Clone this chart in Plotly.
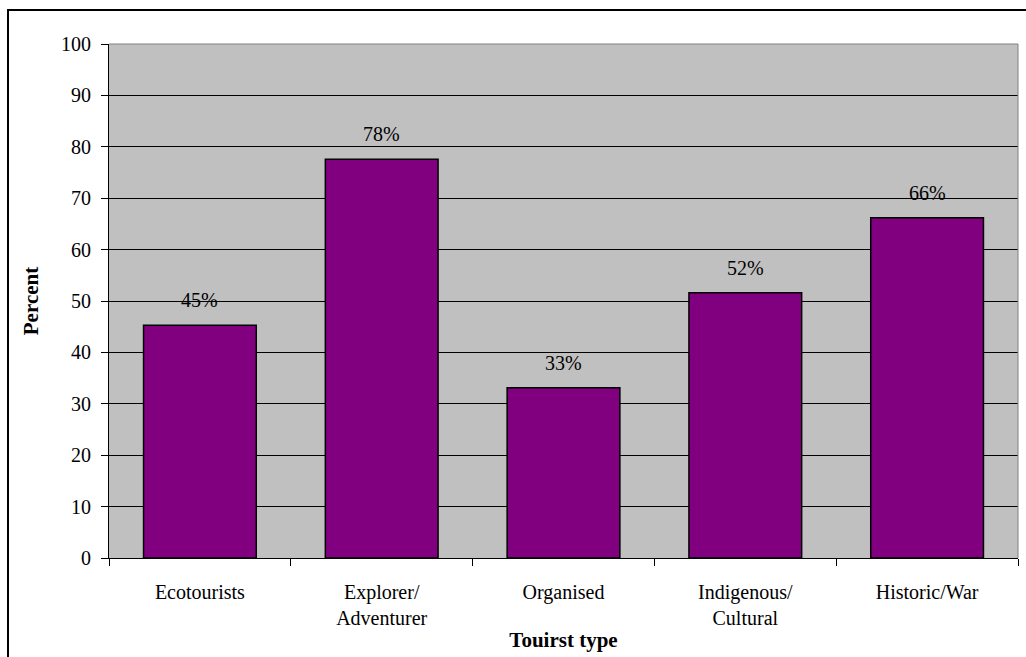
import plotly.graph_objects as go

categories = ["Ecotourists", "Explorer/<br>Adventurer", "Organised", "Indigenous/<br>Cultural", "Historic/War"]
values = [45.3, 77.6, 33.1, 51.6, 66.2]
labels = ["45%", "78%", "33%", "52%", "66%"]
y_ticks = list(range(0, 101, 10))

FONT = "Liberation Serif, Times New Roman, serif"

fig = go.Figure()
fig.add_trace(go.Bar(
    x=categories, y=values,
    marker=dict(color="#800080", line=dict(color="#000000", width=1.5)),
    hoverinfo="skip",
))

for c, v, t in zip(categories, values, labels):
    fig.add_annotation(x=c, y=v, text=t, showarrow=False, yshift=25,
                       font=dict(family=FONT, size=20, color="#000000"))

fig.update_layout(
    width=1026, height=657,
    margin=dict(l=109, r=8, t=44, b=99),
    paper_bgcolor="#FFFFFF",
    plot_bgcolor="#C0C0C0",
    bargap=0.38,
    showlegend=False,
    font=dict(family=FONT, size=20, color="#000000"),
)

fig.update_xaxes(
    type="category",
    tickson="boundaries",
    ticks="outside", ticklen=7, tickcolor="#000000", tickwidth=1,
    ticklabelstandoff=16,
    showline=True, linecolor="#000000", linewidth=1,
    showgrid=False,
    tickfont=dict(family=FONT, size=20),
    title=dict(text="<b>Touirst type</b>", font=dict(family=FONT, size=21), standoff=4),
)
fig.update_yaxes(
    range=[0, 100],
    tickvals=y_ticks,
    ticks="outside", ticklen=7, tickcolor="#000000", tickwidth=1,
    ticklabelstandoff=6,
    showline=True, linecolor="#000000", linewidth=1,
    showgrid=True, gridcolor="#000000", gridwidth=1,
    zeroline=False,
    tickfont=dict(family=FONT, size=20),
    title=dict(text="<b>Percent</b>", font=dict(family=FONT, size=21), standoff=16),
)

# plot-area top/right border (gray)
fig.add_shape(type="line", xref="paper", yref="paper", x0=0, x1=1, y0=1, y1=1,
              line=dict(color="#808080", width=1))
fig.add_shape(type="line", xref="paper", yref="paper", x0=1, x1=1, y0=0, y1=1,
              line=dict(color="#808080", width=1))

# outer chart border (extends beyond the visible page on the right and bottom)
fig.add_shape(type="rect", xref="paper", yref="paper",
              x0=(8 - 109) / 909, x1=1.05, y0=-0.3, y1=1 + (44 - 10) / 514,
              line=dict(color="#000000", width=2), fillcolor="rgba(0,0,0,0)", layer="above")

fig.write_html("out.html")
